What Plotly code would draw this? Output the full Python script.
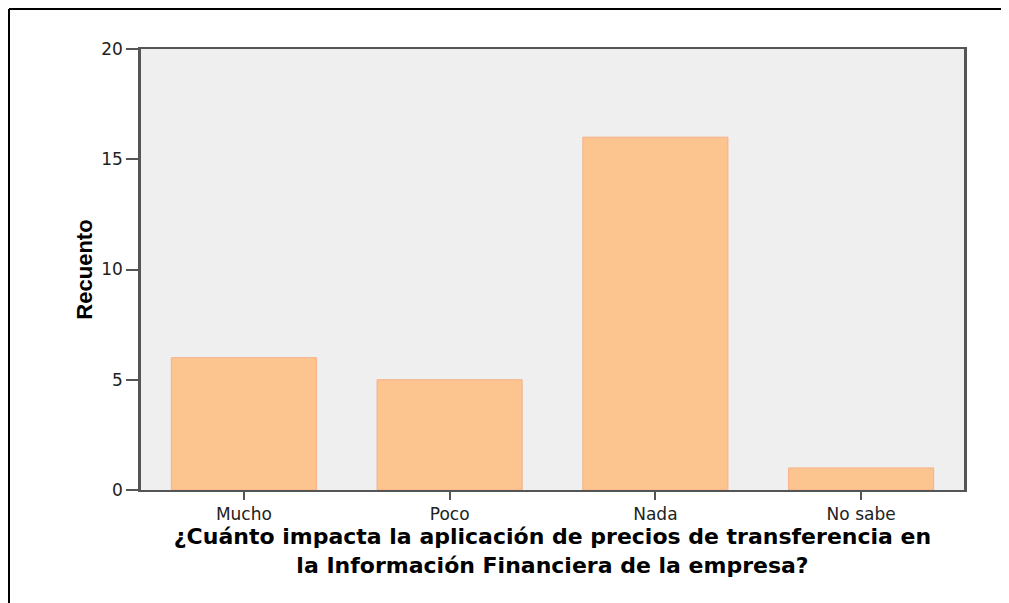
import plotly.graph_objects as go

categories = ["Mucho", "Poco", "Nada", "No sabe"]
counts = [6, 5, 16, 1]
y_ticks = [0, 5, 10, 15, 20]

x_title = "¿Cuánto impacta la aplicación de precios de transferencia en<br>la Información Financiera de la empresa?"
y_title = "Recuento"

# page body has an 8px offset, so the figure is drawn 8px smaller
OFF = 8
W, H = 1009 - OFF, 603 - OFF
L, R, T, B = 141 - OFF, 45, 49 - OFF, 113
pw, ph = W - L - R, H - T - B

fig = go.Figure(go.Bar(
    x=categories, y=counts,
    marker=dict(color="#FCC590", line=dict(color="#F6AE86", width=1)),
    hoverinfo="x+y",
))

fig.update_layout(
    width=W, height=H,
    margin=dict(l=L, r=R, t=T, b=B, autoexpand=False),
    paper_bgcolor="white", plot_bgcolor="#EFEFEF",
    bargap=0.295,
    showlegend=False,
    font=dict(family="DejaVu Sans", color="#222222"),
)

fig.update_xaxes(
    showline=True, linecolor="#555555", linewidth=2, mirror=True,
    ticks="outside", ticklen=8, tickwidth=1.5, tickcolor="#555555",
    tickfont=dict(family="DejaVu Sans", size=17, color="#222222"),
    showgrid=False, automargin=False,
    title=dict(text=x_title, font=dict(family="DejaVu Sans", size=22, color="black", weight="bold"), standoff=0),
)
fig.update_yaxes(
    range=[0, 20], tickvals=y_ticks,
    showline=True, linecolor="#555555", linewidth=2.5, mirror=True,
    ticks="outside", ticklen=12, tickwidth=1.5, tickcolor="#555555",
    tickfont=dict(family="DejaVu Sans", size=17, color="#222222"),
    showgrid=False, zeroline=False, automargin=False,
    title=dict(text=y_title, font=dict(family="Liberation Sans", size=22, color="black", weight="bold"), standoff=3),
)

# outer frame lines (top and left), as in the reference image
fx0 = (9 - OFF - L) / pw
fy1 = 1 + (T - (9 - OFF)) / ph
fig.add_shape(type="line", xref="paper", yref="paper", x0=fx0, x1=(W - L) / pw + 0.02, y0=fy1, y1=fy1,
              line=dict(color="black", width=2))
fig.add_shape(type="line", xref="paper", yref="paper", x0=fx0, x1=fx0, y0=fy1, y1=-(B / ph) - 0.02,
              line=dict(color="black", width=2))

fig.write_html("out.html")
